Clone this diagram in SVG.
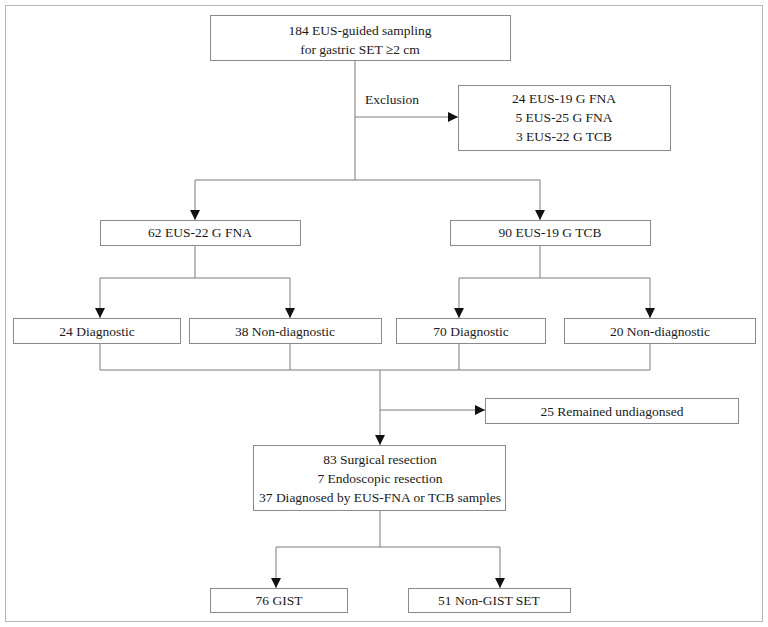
<svg xmlns="http://www.w3.org/2000/svg" width="768" height="627" viewBox="0 0 768 627">
<defs>
<marker id="ah" viewBox="0 0 10 10" refX="10" refY="5" markerWidth="10" markerHeight="10" markerUnits="userSpaceOnUse" orient="auto">
<path d="M0,0 L10,5 L0,10 Z" fill="#111"/>
</marker>
<style>
.box{fill:#fff;stroke:#8a8a8a;stroke-width:1}
.ln{fill:none;stroke:#7a7a7a;stroke-width:1}
.ar{fill:none;stroke:#7a7a7a;stroke-width:1;marker-end:url(#ah)}
.t text{font-size:13.5px;fill:#1a1a1a;text-anchor:middle}
</style>
</defs>
<rect x="5.5" y="5.5" width="757" height="616" fill="#fff" stroke="#b5b5b5"/>
<g id="connectors">
<path class="ln" d="M355,60 V180"/>
<path class="ar" d="M355,117 H458"/>
<path class="ln" d="M195,180 H540"/>
<path class="ar" d="M195,180 V220"/>
<path class="ar" d="M540,180 V220"/>
<path class="ln" d="M195,245 V278 M100,278 H290"/>
<path class="ar" d="M100,278 V318"/>
<path class="ar" d="M290,278 V318"/>
<path class="ln" d="M540,245 V278 M459,278 H650"/>
<path class="ar" d="M459,278 V318"/>
<path class="ar" d="M650,278 V318"/>
<path class="ln" d="M100,343 V370 M290,343 V370 M459,343 V370 M650,343 V370 M100,370 H650"/>
<path class="ar" d="M380,370 V445"/>
<path class="ar" d="M380,410 H485"/>
<path class="ln" d="M380,510 V547 M276,547 H500"/>
<path class="ar" d="M276,547 V588"/>
<path class="ar" d="M500,547 V588"/>
</g>
<g class="t" font-family="'Liberation Serif', 'DejaVu Serif', serif">
<g id="n1"><rect class="box" x="210.5" y="15.5" width="300" height="45"/><text x="360" y="35">184 EUS-guided sampling</text><text x="360" y="54">for gastric SET ≥2 cm</text></g>
<g id="lbl"><text x="392" y="104">Exclusion</text></g>
<g id="n2"><rect class="box" x="458.5" y="85.5" width="212" height="65"/><text x="564" y="103">24 EUS-19 G FNA</text><text x="564" y="122">5 EUS-25 G FNA</text><text x="564" y="141">3 EUS-22 G TCB</text></g>
<g id="n3"><rect class="box" x="100.5" y="220.5" width="200" height="25"/><text x="200" y="237">62 EUS-22 G FNA</text></g>
<g id="n4"><rect class="box" x="450.5" y="220.5" width="200" height="25"/><text x="550" y="237">90 EUS-19 G TCB</text></g>
<g id="n5"><rect class="box" x="13.5" y="318.5" width="167" height="25"/><text x="97" y="336">24 Diagnostic</text></g>
<g id="n6"><rect class="box" x="189.5" y="318.5" width="192" height="25"/><text x="285" y="336">38 Non-diagnostic</text></g>
<g id="n7"><rect class="box" x="396.5" y="318.5" width="149" height="25"/><text x="471" y="336">70 Diagnostic</text></g>
<g id="n8"><rect class="box" x="564.5" y="318.5" width="191" height="25"/><text x="660" y="336">20 Non-diagnostic</text></g>
<g id="n9"><rect class="box" x="485.5" y="398.5" width="253" height="25"/><text x="612" y="416">25 Remained undiagonsed</text></g>
<g id="n10"><rect class="box" x="253.5" y="445.5" width="252" height="65"/><text x="380" y="464">83 Surgical resection</text><text x="380" y="483">7 Endoscopic resection</text><text x="380" y="502">37 Diagnosed by EUS-FNA or TCB samples</text></g>
<g id="n11"><rect class="box" x="210.5" y="588.5" width="137" height="24"/><text x="279" y="605">76 GIST</text></g>
<g id="n12"><rect class="box" x="408.5" y="588.5" width="162" height="24"/><text x="489" y="605">51 Non-GIST SET</text></g>
</g>
</svg>
